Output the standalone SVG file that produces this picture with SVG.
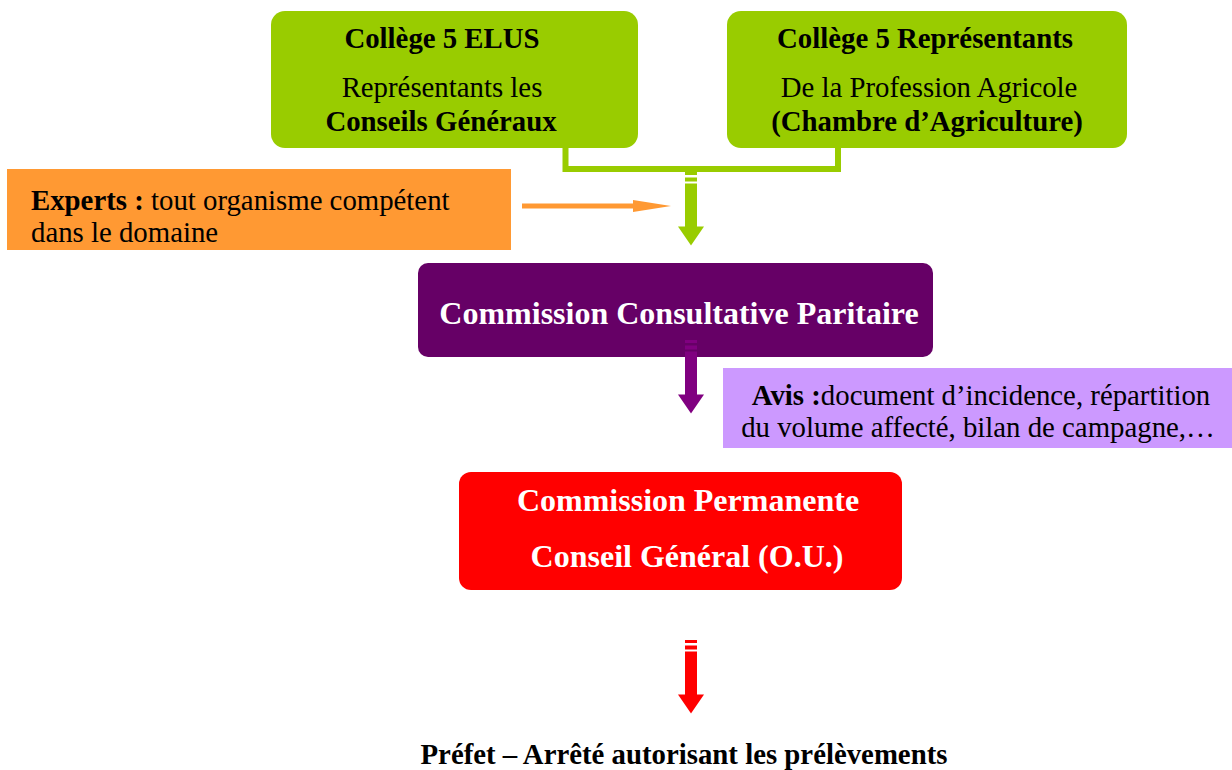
<svg xmlns="http://www.w3.org/2000/svg" xmlns:xlink="http://www.w3.org/1999/xlink" width="1232" height="770" viewBox="0 0 1232 770">
<style>
text{font-family:"Liberation Serif","Times New Roman",serif;font-size:28.8px;fill:#000;text-anchor:middle}
.b{font-weight:bold}
.big{font-size:32px;font-weight:bold;fill:#fff}
.lft{text-anchor:start}
</style>
<defs>
<g id="blk">
<rect x="-6" y="0" width="12" height="3"/>
<rect x="-6" y="5.5" width="12" height="4"/>
<rect x="-6" y="11.5" width="12" height="43.5"/>
<polygon points="-13,54.5 13,54.5 0,73.5"/>
</g>
</defs>
<rect width="1232" height="770" fill="#fff"/>
<g id="college-elus">
<rect x="271" y="11" width="367" height="137" rx="14" fill="#99CC00"/>
<text x="442" y="48" class="b">Collège 5 ELUS</text>
<text x="442" y="97">Représentants les</text>
<text x="441" y="131" class="b">Conseils Généraux</text>
</g>
<g id="college-profession">
<rect x="727" y="11" width="400" height="137" rx="14" fill="#99CC00"/>
<text x="925" y="48" class="b">Collège 5 Représentants</text>
<text x="929" y="97">De la Profession Agricole</text>
<text x="927" y="131" class="b">(Chambre d’Agriculture)</text>
</g>
<g id="experts">
<rect x="7" y="169" width="504" height="81" fill="#FF9933"/>
<text x="31" y="210" class="lft"><tspan class="b">Experts :</tspan> tout organisme compétent</text>
<text x="31" y="242" class="lft">dans le domaine</text>
</g>
<g id="ccp">
<rect x="418" y="263" width="515" height="94" rx="10" fill="#660066"/>
<text x="679" y="324" class="big">Commission Consultative Paritaire</text>
</g>
<g id="avis">
<rect x="723" y="368" width="509" height="80" fill="#CC99FF"/>
<text x="981" y="405"><tspan class="b">Avis :</tspan>document d’incidence, répartition</text>
<text x="978" y="437">du volume affecté, bilan de campagne,…</text>
</g>
<g id="commission-permanente">
<rect x="459" y="472" width="443" height="118" rx="12" fill="#FF0000"/>
<text x="688" y="511" class="big">Commission Permanente</text>
<text x="687" y="567" class="big">Conseil Général (O.U.)</text>
</g>
<g id="prefet">
<text x="684" y="764" class="b">Préfet – Arrêté autorisant les prélèvements</text>
</g>
<g id="connectors">
<path d="M565.5,148 V169 H838 V148" fill="none" stroke="#99CC00" stroke-width="6"/>
<line x1="522" y1="206" x2="636" y2="206" stroke="#FF9933" stroke-width="5"/>
<polygon points="633,200 671,206 633,212" fill="#FF9933"/>
<use xlink:href="#blk" transform="translate(691,172)" fill="#99CC00"/>
<use xlink:href="#blk" transform="translate(691,340)" fill="#800080"/>
<use xlink:href="#blk" transform="translate(691,640)" fill="#FF0000"/>
</g>
</svg>
